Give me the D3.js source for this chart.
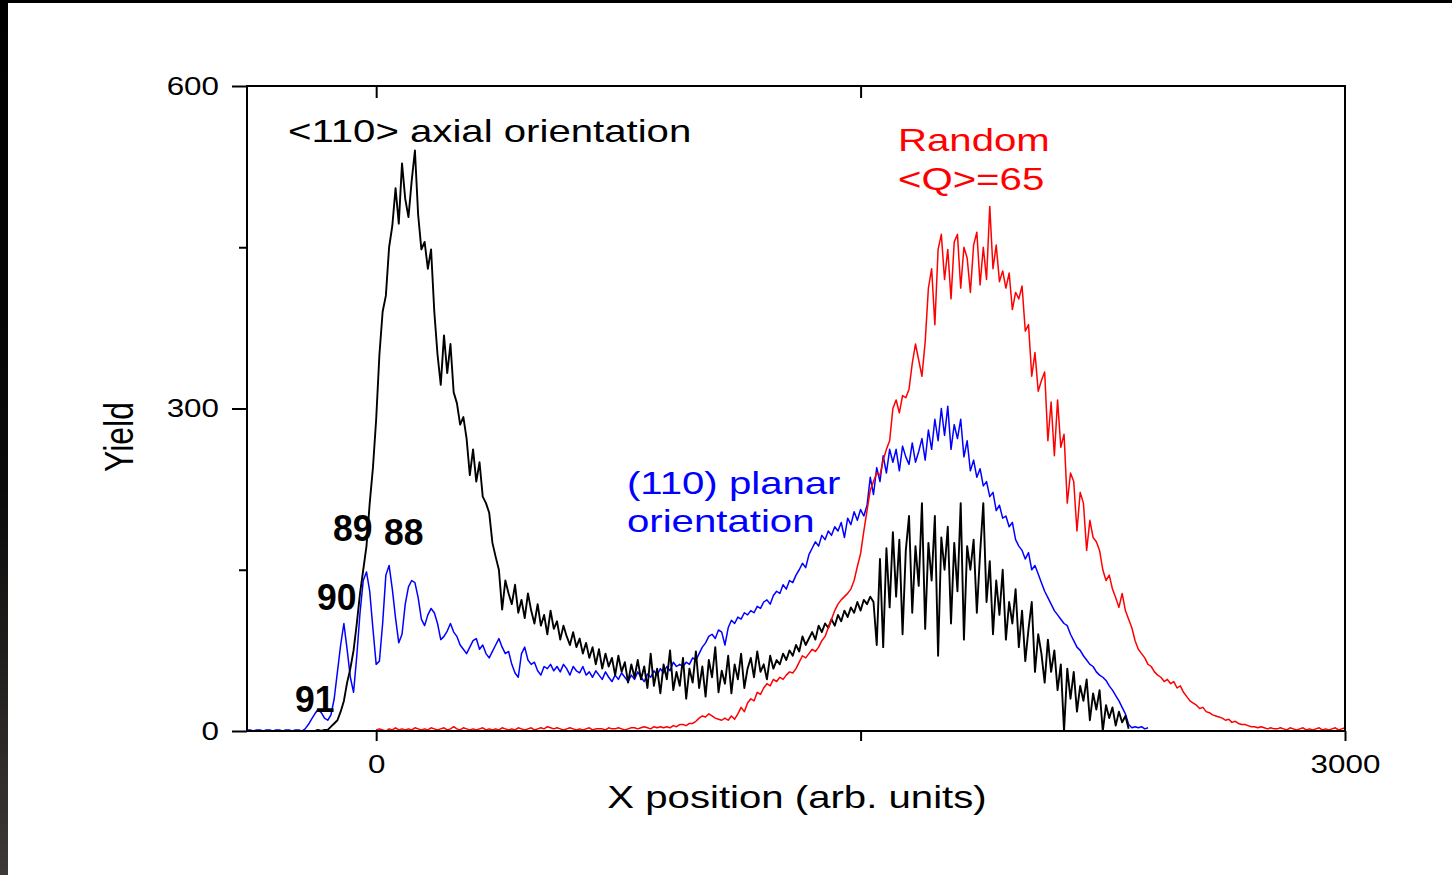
<!DOCTYPE html>
<html>
<head>
<meta charset="utf-8">
<script src="https://cdn.jsdelivr.net/npm/d3@7"></script>
<style>
  body { margin: 0; background: #fff; }
  svg { display: block; font-family: "Liberation Sans", Arial, sans-serif; }
</style>
</head>
<body>
<svg id="chart" width="1452" height="875"></svg>
<script>
// channel spacing (x units) shared by all three spectra
var xStep = 10;

// <110> axial orientation (black), first channel at x = -200
var axialStart = -200;
var axialYield = [
  0,0,1,0,1,1,4,7,10,18,
  28,45,58,75,100,128,150,172,212,245,
  290,350,390,405,450,470,505,472,528,495,
  478,512,540,480,448,455,430,448,390,350,
  322,368,333,360,315,305,285,292,272,238,
  262,232,250,218,212,203,175,162,150,113,
  140,128,118,136,110,122,105,128,112,100,
  118,98,108,90,112,95,102,85,98,88,
  80,92,78,86,72,82,68,78,62,76,
  58,72,60,68,52,70,55,64,45,62,
  50,66,48,60,40,72,42,58,35,62,
  48,75,38,55,42,68,30,58,45,74,
  40,60,32,66,50,78,36,56,44,70,
  35,62,48,72,40,58,68,50,74,55,
  62,48,70,58,66,62,72,66,75,70,
  80,74,88,80,86,92,85,98,92,100,
  96,104,98,108,102,112,106,115,110,120,
  112,122,118,125,120,80,160,78,170,115,
  185,125,178,90,168,200,110,172,135,212,
  95,175,140,200,70,180,150,190,100,175,
  130,212,85,172,150,178,110,165,212,120,
  158,90,140,108,150,85,120,100,132,78,
  112,65,95,120,55,90,72,45,85,55,
  75,38,62,0,58,30,55,18,42,28,
  48,10,35,20,38,0,24,12,22,5,
  18,8,14,2
];

// (110) planar orientation (blue), first channel at x = -400
var planarStart = -400;
var planarYield = [
  1,1,0,1,1,0,1,1,0,1,
  1,0,1,1,0,1,1,0,2,6,
  11,16,20,17,12,10,15,30,55,80,
  100,76,50,36,70,110,140,148,130,95,
  62,65,100,145,154,132,105,82,90,118,
  134,140,138,124,104,98,108,114,110,100,
  85,88,93,100,92,88,80,76,72,78,
  84,86,76,80,72,68,74,80,86,78,
  72,74,62,54,50,72,78,66,62,64,
  56,52,60,58,62,56,60,55,62,58,
  52,60,56,54,60,52,55,50,56,52,
  48,55,50,46,52,48,54,50,46,52,
  48,55,50,46,53,50,56,52,58,54,
  60,56,64,60,62,60,64,62,68,66,
  72,78,82,88,90,86,94,92,80,96,
  103,100,106,104,110,108,112,110,116,114,
  120,122,118,126,130,128,136,132,140,138,
  145,150,156,152,164,170,176,172,182,178,
  186,182,190,186,194,180,198,192,204,196,
  206,200,210,236,220,245,232,256,240,262,
  250,262,242,265,255,248,268,250,260,272,
  252,280,262,290,270,300,275,302,262,285,
  272,290,255,270,242,252,236,244,228,232,
  218,222,205,210,198,200,190,194,178,172,
  168,160,166,150,154,146,138,130,124,118,
  112,108,104,100,98,90,84,78,75,70,
  66,62,60,55,52,50,47,42,38,33,
  28,22,16,6,3,4,3,4,2,3
];

// Random <Q>=65 (red), first channel at x = 0
var randomStart = 0;
var randomYield = [
  1,2,1,0,2,1,3,1,2,1,
  2,1,3,2,1,2,1,3,2,1,
  2,3,1,2,4,2,1,3,2,1,
  2,1,2,3,1,2,1,2,1,3,
  2,1,2,1,3,2,1,2,3,1,
  2,3,2,4,3,2,3,2,1,2,
  3,2,1,2,1,2,3,1,2,2,
  2,1,3,2,2,3,2,1,2,3,
  3,2,3,4,3,2,4,3,4,3,
  4,3,5,4,6,6,5,7,7,9,
  12,14,13,16,14,12,11,10,12,10,
  14,11,16,22,18,26,30,28,36,34,
  40,44,42,48,46,50,48,52,55,54,
  58,64,70,68,72,76,74,78,84,88,
  96,104,112,118,122,125,128,132,140,153,
  165,186,205,224,232,240,238,252,262,270,
  300,308,296,312,310,318,342,360,345,330,
  362,412,430,378,448,462,420,448,402,455,
  462,412,450,440,408,452,464,415,450,420,
  488,430,452,418,428,412,426,392,408,402,
  414,372,378,330,352,316,326,334,270,306,
  256,308,264,276,212,240,232,186,222,212,
  168,196,180,176,168,150,140,145,132,124,
  115,128,112,104,96,84,76,72,68,62,
  60,55,52,50,46,48,44,46,40,42,
  36,32,28,26,24,21,22,18,17,15,
  14,13,12,10,11,8,9,7,6,6,
  5,4,4,3,4,3,2,3,2,2,
  3,2,1,3,2,1,2,3,1,2,
  1,2,3,1,2,1,2,3,1,2,3
];

var xMajorTicks = [0, 1500, 3000];
var xTickLabels = ["0", "", "3000"];
var yMajorTicks = [0, 300, 600];
var yMinorTicks = [150, 450];

// Define constants
var margin = { top: 86, right: 107, bottom: 144, left: 247 };
var svgWidth = 1452, svgHeight = 875;
var width = svgWidth - margin.left - margin.right;
var height = svgHeight - margin.top - margin.bottom;
var stretch = 1.255;   // the original figure is a bit wider than tall

var svg = d3.select("#chart");

// dark border strips along the top and left edge
var grad = svg.append("defs").append("linearGradient")
    .attr("id", "edge").attr("x1", 0).attr("y1", 0).attr("x2", 0).attr("y2", 1);
grad.append("stop").attr("offset", "0%").attr("stop-color", "#000");
grad.append("stop").attr("offset", "55%").attr("stop-color", "#0a0a0a");
grad.append("stop").attr("offset", "100%").attr("stop-color", "#3d3936");
svg.append("rect").attr("x", 0).attr("y", 0).attr("width", svgWidth).attr("height", 3).attr("fill", "#000");
svg.append("rect").attr("x", 0).attr("y", 0).attr("width", 8).attr("height", svgHeight).attr("fill", "url(#edge)");

var g = svg.append("g").attr("transform", "translate(" + margin.left + "," + margin.top + ")");

var x = d3.scaleLinear().domain([-400, 3000]).range([0, width]);
var y = d3.scaleLinear().domain([0, 600]).range([height, 0]);

function toPoints(start, values) {
    return values.map(function(v, i) { return [start + i * xStep, v]; });
}

var line = d3.line()
    .x(function(d) { return x(d[0]); })
    .y(function(d) { return y(d[1]); });

var series = [
    { pts: toPoints(planarStart, planarYield), color: "#0000ff", w: 1.5 },
    { pts: toPoints(axialStart, axialYield), color: "#000000", w: 1.9 },
    { pts: toPoints(randomStart, randomYield), color: "#ff0000", w: 1.5 }
];

g.selectAll(".spectrum")
    .data(series).enter()
    .append("path")
    .attr("class", "spectrum")
    .attr("fill", "none")
    .attr("stroke", function(d) { return d.color; })
    .attr("stroke-width", function(d) { return d.w; })
    .attr("stroke-linejoin", "round")
    .attr("d", function(d) { return line(d.pts); });

// axes
function styleAxis(sel) {
    sel.select(".domain").remove();
    sel.selectAll("line").attr("stroke", "#000").attr("stroke-width", 2);
    sel.selectAll("text")
        .attr("fill", "#000")
        .style("font-size", "25px")
        .style("font-family", "'Liberation Sans', Arial, sans-serif");
}

var yAxis = g.append("g")
    .call(d3.axisLeft(y).tickValues(yMajorTicks).tickSize(15).tickPadding(13).tickSizeOuter(0))
    .call(styleAxis);
yAxis.selectAll("text").each(function() {
    var t = d3.select(this);
    t.attr("x", +t.attr("x") / stretch).attr("transform", "scale(" + stretch + ",1)");
});

g.append("g")
    .call(d3.axisLeft(y).tickValues(yMinorTicks).tickSize(8).tickFormat("").tickSizeOuter(0))
    .call(styleAxis);

g.append("g")
    .attr("transform", "translate(0," + height + ")")
    .call(d3.axisBottom(x).tickValues(xMajorTicks).tickSize(10).tickPadding(14).tickSizeOuter(0)
        .tickFormat(function(d, i) { return xTickLabels[i]; }))
    .call(styleAxis)
    .selectAll("text").attr("transform", "scale(" + stretch + ",1)");

g.append("g")
    .call(d3.axisTop(x).tickValues([0, 1500]).tickSize(-12).tickFormat("").tickSizeOuter(0))
    .call(styleAxis);

g.append("rect")
    .attr("x", 0).attr("y", 0)
    .attr("width", width).attr("height", height)
    .attr("fill", "none").attr("stroke", "#000").attr("stroke-width", 2);

// texts
function label(txt, px, py, opt) {
    opt = opt || {};
    var sx = opt.sx || stretch;
    return svg.append("text")
        .attr("transform", "translate(" + px + "," + py + ") scale(" + sx + ",1)" + (opt.rotate ? " rotate(" + opt.rotate + ")" : ""))
        .attr("text-anchor", opt.anchor || "start")
        .attr("fill", opt.color || "#000")
        .style("font-size", (opt.size || 32) + "px")
        .style("font-weight", opt.bold ? "bold" : "normal")
        .text(txt);
}

label("X position (arb. units)", 797, 808, { anchor: "middle" });
label("Yield", 133, 437, { anchor: "middle", rotate: -90 });

label("<110> axial orientation", 288, 142);
label("Random", 898, 151, { color: "#ff0000" });
label("<Q>=65", 898, 190, { color: "#ff0000" });
label("(110) planar", 627, 494, { color: "#0000ff" });
label("orientation", 627, 532, { color: "#0000ff" });

label("89", 333, 541, { bold: true, size: 37, sx: 0.96 });
label("88", 384, 545, { bold: true, size: 37, sx: 0.96 });
label("90", 317, 610, { bold: true, size: 37, sx: 0.96 });
label("91", 295, 712, { bold: true, size: 37, sx: 0.96 });
</script>
</body>
</html>
